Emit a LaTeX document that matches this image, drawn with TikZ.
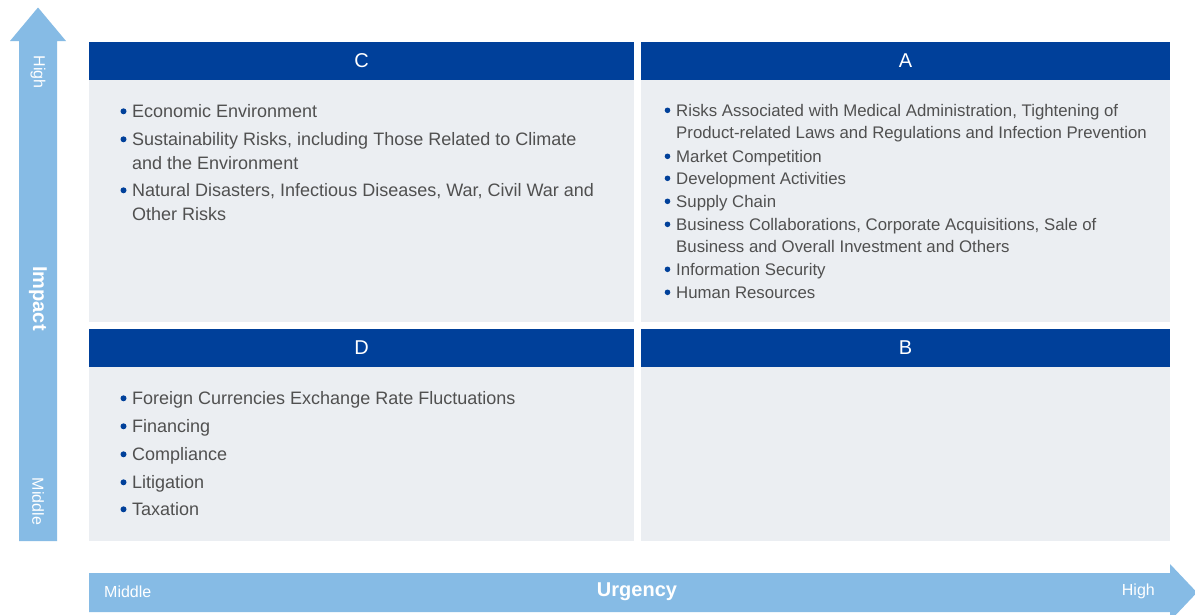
\documentclass[tikz,border=0pt]{standalone}
\usepackage{fontspec}
\setmainfont{Liberation Sans}
\definecolor{hdr}{HTML}{00409A}
\definecolor{bodybg}{HTML}{EBEEF2}
\definecolor{arr}{HTML}{86BBE5}
\definecolor{txt}{HTML}{505050}
\tikzset{
 hdrtxt/.style={text=white, font=\fontsize{20}{24}\selectfont, inner sep=0pt},
 itemL/.style={anchor=base west, inner sep=0pt, text=txt, font=\fontsize{18}{24}\selectfont},
 itemR/.style={anchor=base west, inner sep=0pt, text=txt, font=\fontsize{16.8}{22}\selectfont},
 arrlbl/.style={text=white, inner sep=0pt, font=\fontsize{16}{18}\selectfont},
 arrtitle/.style={text=white, inner sep=0pt, font=\fontsize{20}{22}\selectfont\bfseries},
}
\newcommand\qbul[3]{\fill[hdr] (#1,#2) circle[radius=#3];}
\begin{document}
\begin{tikzpicture}[x=1pt,y=-1pt]
\useasboundingbox (0,0) rectangle (1195,614);
\clip (0,0) rectangle (1195,614);
\fill[white] (0,0) rectangle (1195,614);
% axis arrows
\fill[arr] (19,541) -- (19,41) -- (10,41) -- (38,7.5) -- (66,41) -- (57,41) -- (57,541) -- cycle;
\fill[arr] (89,573) -- (1170,573) -- (1170,564) -- (1197,592.5) -- (1170,621) -- (1170,612) -- (89,612) -- cycle;
% panels
\fill[bodybg] (89,79) rectangle (634,322);
\fill[bodybg] (641,79) rectangle (1170,322);
\fill[bodybg] (89,366) rectangle (634,541);
\fill[bodybg] (641,366) rectangle (1170,541);
\fill[hdr] (89,42) rectangle (634,79.5);
\fill[hdr] (641,42) rectangle (1170,79.5);
\fill[hdr] (89,329) rectangle (634,366.5);
\fill[hdr] (641,329) rectangle (1170,366.5);
% header letters
\node[hdrtxt] (hC) at (361.5,61) {C};
\node[hdrtxt] (hA) at (905.5,61) {A};
\node[hdrtxt] (hD) at (361.5,348) {D};
\node[hdrtxt] (hB) at (905.5,348) {B};
% axis labels
\node[arrlbl, rotate=-90] (vHigh) at (38,72) {High};
\node[arrtitle, rotate=-90] (vImpact) at (38,298.5) {Impact};
\node[arrlbl, rotate=-90] (vMid) at (38,501.5) {Middle};
\node[arrlbl, anchor=west] (hMid) at (104,591.5) {Middle};
\node[arrtitle] (hUrg) at (637,592) {Urgency};
\node[arrlbl, anchor=east] (hHigh) at (1155,591.5) {High};
% C panel
\qbul{123.5}{111.3}{3}
\node[itemL] (c1) at (132,117.5) {Economic Environment};
\qbul{123.5}{139.3}{3}
\node[itemL] (c2) at (132,145.5) {Sustainability Risks, including Those Related to Climate};
\node[itemL] (c2b) at (132,169.5) {and the Environment};
\qbul{123.5}{190.3}{3}
\node[itemL] (c3) at (132,196.5) {Natural Disasters, Infectious Diseases, War, Civil War and};
\node[itemL] (c3b) at (132,220.5) {Other Risks};
% A panel
\qbul{667.5}{110.3}{2.8}
\node[itemR] (a1) at (676,116) {Risks Associated with Medical Administration, Tightening of};
\node[itemR] (a1b) at (676,138) {Product-related Laws and Regulations and Infection Prevention};
\qbul{667.5}{156.3}{2.8}
\node[itemR] (a2) at (676,162) {Market Competition};
\qbul{667.5}{178.3}{2.8}
\node[itemR] (a3) at (676,184) {Development Activities};
\qbul{667.5}{201.3}{2.8}
\node[itemR] (a4) at (676,207) {Supply Chain};
\qbul{667.5}{224.3}{2.8}
\node[itemR] (a5) at (676,230) {Business Collaborations, Corporate Acquisitions, Sale of};
\node[itemR] (a5b) at (676,252) {Business and Overall Investment and Others};
\qbul{667.5}{269.3}{2.8}
\node[itemR] (a6) at (676,275) {Information Security};
\qbul{667.5}{292.3}{2.8}
\node[itemR] (a7) at (676,298) {Human Resources};
% D panel
\qbul{123.5}{398.3}{3}
\node[itemL] (d1) at (132,404.5) {Foreign Currencies Exchange Rate Fluctuations};
\qbul{123.5}{426.3}{3}
\node[itemL] (d2) at (132,432.5) {Financing};
\qbul{123.5}{454.3}{3}
\node[itemL] (d3) at (132,460.5) {Compliance};
\qbul{123.5}{482.3}{3}
\node[itemL] (d4) at (132,488.5) {Litigation};
\qbul{123.5}{509.3}{3}
\node[itemL] (d5) at (132,515.5) {Taxation};
\end{tikzpicture}
\end{document}
